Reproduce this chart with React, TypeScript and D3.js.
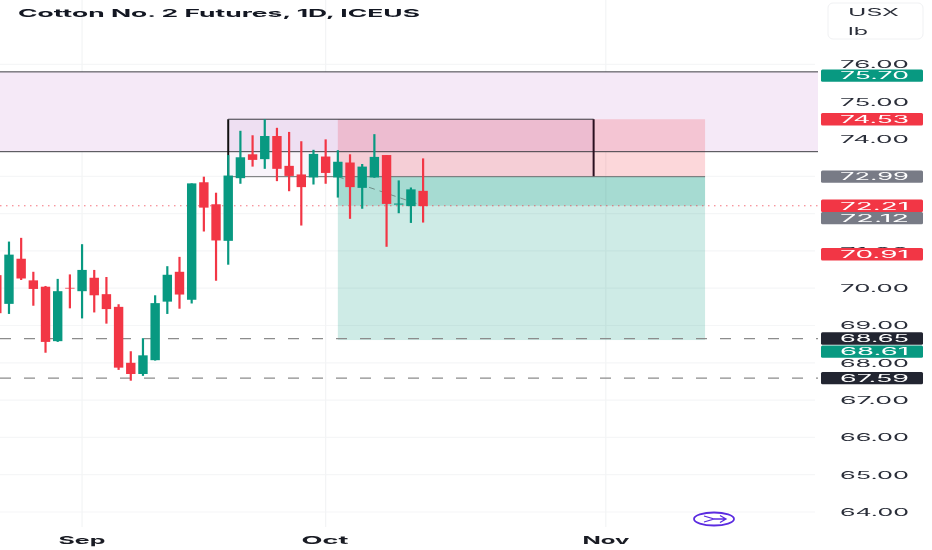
import React, { useEffect, useRef } from "react";
import * as d3 from "d3";

// candles, one trading day each: [open, high, low, close]
const candles: [number, number, number, number][] = [
	[70.35, 70.35, 69.33, 69.33],
	[69.58, 71.25, 69.31, 70.9],
	[70.79, 71.35, 70.22, 70.26],
	[70.21, 70.44, 69.53, 69.98],
	[70.04, 70.06, 68.27, 68.56],
	[68.58, 70.25, 68.56, 69.92],
	[70.01, 70.37, 69.46, 69.99],
	[69.92, 71.18, 69.19, 70.49],
	[70.28, 70.49, 69.35, 69.81],
	[69.84, 70.3, 69.05, 69.44],
	[69.5, 69.57, 67.81, 67.87],
	[68.0, 68.31, 67.52, 67.7],
	[67.7, 68.66, 67.65, 68.2],
	[68.07, 69.81, 68.06, 69.6],
	[69.64, 70.59, 69.31, 70.36],
	[70.44, 70.84, 69.45, 69.83],
	[69.69, 72.81, 69.59, 72.81],
	[72.84, 72.99, 71.52, 72.16],
	[72.25, 72.56, 70.2, 71.28],
	[71.27, 73.57, 70.63, 73.02],
	[72.95, 74.22, 72.8, 73.51],
	[73.59, 74.1, 73.26, 73.44],
	[73.46, 74.53, 73.2, 74.08],
	[74.08, 74.3, 72.87, 73.2],
	[73.28, 74.19, 72.6, 73.01],
	[73.05, 73.94, 71.68, 72.71],
	[72.97, 73.71, 72.78, 73.6],
	[73.53, 73.99, 72.8, 73.09],
	[72.97, 73.7, 72.43, 73.39],
	[73.37, 73.59, 71.86, 72.71],
	[72.69, 73.33, 72.13, 73.26],
	[72.97, 74.13, 72.96, 73.52],
	[73.57, 73.57, 71.11, 72.26],
	[72.24, 72.89, 72.01, 72.27],
	[72.2, 72.7, 71.75, 72.65],
	[72.61, 73.48, 71.76, 72.2],
];

const priceTicks = [76, 75, 74, 73, 72, 71, 70, 69, 68, 67, 66, 65, 64];
// 73 and 72 sit fully under the price tags in the original, so no text for them
const priceTickLabels = [76, 75, 74, 71, 70, 69, 68, 67, 66, 65, 64];
const monthLabels = ["Sep", "Oct", "Nov"];
const monthIndex = [7, 27, 50];

// purple zone and the black box inside it
const zoneTop = 75.8;
const zoneBottom = 73.66;
const boxStart = 19;
const boxEnd = 49;
const boxTop = 74.53;
const boxBottom = 72.99;

// long position tool
const tradeStart = 28;
const tradeEnd = 58.15;
const stopPrice = 74.53;
const entryPrice = 72.99;
const targetPrice = 68.61;
const lastPrice = 72.21;
const lastIndex = 35;

const levelLines = [68.65, 67.59];

const green = "#089981";
const red = "#f23645";
const navy = "#222531";
const gray = "#787b86";

// y is where the label really sits, some are pushed apart like on the platform
const labelText = ["75.70", "74.53", "72.99", "72.21", "72.12", "70.91", "68.65", "68.61", "67.59"];
const labelPrice = [75.7, 74.53, 72.99, 72.21, 71.88, 70.91, 68.65, 68.3, 67.59];
const labelColor = [green, red, gray, red, gray, red, navy, green, navy];

export default function App() {
	const svgRef = useRef<SVGSVGElement | null>(null);

	useEffect(() => {
		if (!svgRef.current) return;

		const width = 932;
		const height = 550;
		const plotRight = 818;

		const x = d3.scaleLinear().domain([0, lastIndex]).range([-3.2, 423.1]);
		const y = d3.scaleLinear().domain([64, 76]).range([512, 64.4]);

		const svg = d3.select(svgRef.current);
		svg.selectAll("*").remove();
		svg.attr("viewBox", `0 0 ${width} ${height}`);

		svg.append("rect").attr("width", width).attr("height", height).attr("fill", "#fff");

		// grid
		svg
			.append("g")
			.selectAll("line")
			.data(priceTicks)
			.enter()
			.append("line")
			.attr("x1", 0)
			.attr("x2", 815)
			.attr("y1", (d) => y(d))
			.attr("y2", (d) => y(d))
			.attr("stroke", "#f5f6f7")
			.attr("stroke-width", 1.2);
		svg
			.append("g")
			.selectAll("line")
			.data(monthIndex)
			.enter()
			.append("line")
			.attr("x1", (d) => x(d))
			.attr("x2", (d) => x(d))
			.attr("y1", 0)
			.attr("y2", 527)
			.attr("stroke", "#f3f4f5")
			.attr("stroke-width", 1.2);

		// purple zone
		svg
			.append("rect")
			.attr("x", 0)
			.attr("width", plotRight)
			.attr("y", y(zoneTop))
			.attr("height", y(zoneBottom) - y(zoneTop))
			.attr("fill", "#f5e9f7");

		// long position
		const tradeX = x(tradeStart);
		const tradeW = x(tradeEnd) - x(tradeStart);
		svg
			.append("rect")
			.attr("x", tradeX)
			.attr("width", tradeW)
			.attr("y", y(stopPrice))
			.attr("height", y(entryPrice) - y(stopPrice))
			.attr("fill", red)
			.attr("fill-opacity", 0.2);
		svg
			.append("rect")
			.attr("x", tradeX)
			.attr("width", tradeW)
			.attr("y", y(entryPrice))
			.attr("height", y(targetPrice) - y(entryPrice))
			.attr("fill", green)
			.attr("fill-opacity", 0.2);
		svg
			.append("rect")
			.attr("x", tradeX)
			.attr("width", tradeW)
			.attr("y", y(entryPrice))
			.attr("height", y(lastPrice) - y(entryPrice))
			.attr("fill", green)
			.attr("fill-opacity", 0.2);

		// box fill, borders come later
		svg
			.append("rect")
			.attr("x", x(boxStart))
			.attr("width", x(boxEnd) - x(boxStart))
			.attr("y", y(boxTop))
			.attr("height", y(boxBottom) - y(boxTop))
			.attr("fill", "#7a1fa2")
			.attr("fill-opacity", 0.05);

		// zone borders
		[zoneTop, zoneBottom].forEach((p) => {
			svg
				.append("line")
				.attr("x1", 0)
				.attr("x2", plotRight)
				.attr("y1", y(p))
				.attr("y2", y(p))
				.attr("stroke", "#3e3e44")
				.attr("stroke-width", 1);
		});

		// box borders
		svg
			.append("path")
			.attr("d", `M${x(boxStart)},${y(boxBottom)}V${y(boxTop)}`)
			.attr("stroke", "#111")
			.attr("stroke-width", 2);
		svg
			.append("path")
			.attr("d", `M${x(boxStart)},${y(boxTop)}H${x(boxEnd)}`)
			.attr("stroke", "#3a3a40")
			.attr("stroke-width", 1);
		svg
			.append("path")
			.attr("d", `M${x(boxEnd)},${y(boxTop)}V${y(boxBottom)}`)
			.attr("stroke", "#2a1020")
			.attr("stroke-width", 2);
		svg
			.append("path")
			.attr("d", `M${x(boxStart)},${y(boxBottom)}H${x(tradeEnd)}`)
			.attr("stroke", "#6b6f70")
			.attr("stroke-width", 1);

		// level lines + last price
		levelLines.forEach((p) => {
			svg
				.append("line")
				.attr("x1", 0)
				.attr("x2", plotRight)
				.attr("y1", y(p))
				.attr("y2", y(p))
				.attr("stroke", "#8c8c8c")
				.attr("stroke-width", 1.2)
				.attr("stroke-dasharray", "11 13");
		});
		svg
			.append("line")
			.attr("x1", 0)
			.attr("x2", plotRight)
			.attr("y1", y(lastPrice))
			.attr("y2", y(lastPrice))
			.attr("stroke", red)
			.attr("stroke-opacity", 0.7)
			.attr("stroke-dasharray", "1.5 4.5");
		svg
			.append("line")
			.attr("x1", tradeX)
			.attr("x2", x(lastIndex))
			.attr("y1", y(entryPrice))
			.attr("y2", y(lastPrice))
			.attr("stroke", "#6f8f88")
			.attr("stroke-dasharray", "6 5");

		// candles
		const bars = svg
			.append("g")
			.selectAll("g")
			.data(candles)
			.enter()
			.append("g")
			.attr("fill", (d) => (d[3] >= d[0] ? green : red))
			.attr("stroke", (d) => (d[3] >= d[0] ? green : red));
		bars
			.append("line")
			.attr("x1", (_, i) => x(i))
			.attr("x2", (_, i) => x(i))
			.attr("y1", (d) => y(d[1]))
			.attr("y2", (d) => y(d[2]))
			.attr("stroke-width", 2.2);
		bars
			.append("rect")
			.attr("x", (_, i) => x(i) - 4.7)
			.attr("width", 9.4)
			.attr("y", (d) => y(Math.max(d[0], d[3])))
			.attr("height", (d) => Math.max(0.6, Math.abs(y(d[0]) - y(d[3]))))
			.attr("stroke", "none");

		// price axis
		const axis = svg
			.append("g")
			.attr("transform", `translate(840,0)`)
			.call(d3.axisRight(y).tickValues(priceTickLabels).tickFormat(d3.format(".2f")).tickSize(0).tickPadding(0));
		axis.select(".domain").remove();
		axis
			.selectAll("text")
			.attr("font-family", "Inter, 'Noto Sans', sans-serif")
			.attr("font-size", 10.5)
			.attr("fill", "#2a2e39")
			.attr("textLength", 69)
			.attr("lengthAdjust", "spacingAndGlyphs");

		// price labels
		const tags = svg
			.append("g")
			.selectAll("g")
			.data(labelText)
			.enter()
			.append("g")
			.attr("transform", (_, i) => `translate(821,${y(labelPrice[i])})`);
		tags
			.append("rect")
			.attr("y", -6.2)
			.attr("width", 102)
			.attr("height", 12.4)
			.attr("rx", 1.5)
			.attr("fill", (_, i) => labelColor[i]);
		tags
			.append("text")
			.attr("x", 19)
			.attr("dy", "0.36em")
			.attr("font-family", "Inter, 'Noto Sans', sans-serif")
			.attr("font-size", 10.5)
			.attr("fill", "#fff")
			.attr("textLength", 69)
			.attr("lengthAdjust", "spacingAndGlyphs")
			.text((d) => d);

		// months
		svg
			.append("g")
			.selectAll("text")
			.data(monthLabels)
			.enter()
			.append("text")
			.attr("x", (_, i) => [82, 325, 606][i])
			.attr("y", 543.5)
			.attr("text-anchor", "middle")
			.attr("font-family", "Inter, 'Noto Sans', sans-serif")
			.attr("font-weight", 700)
			.attr("font-size", 11)
			.attr("fill", "#1a1c24")
			.attr("textLength", 47)
			.attr("lengthAdjust", "spacingAndGlyphs")
			.text((d) => d);

		// title
		svg
			.append("text")
			.attr("x", 18)
			.attr("y", 16.5)
			.attr("font-family", "Inter, 'Noto Sans', sans-serif")
			.attr("font-weight", 700)
			.attr("font-size", 11)
			.attr("fill", "#131722")
			.attr("textLength", 402)
			.attr("lengthAdjust", "spacingAndGlyphs")
			.text("Cotton No. 2 Futures, 1D, ICEUS");

		// currency / unit box
		svg
			.append("rect")
			.attr("x", 828)
			.attr("y", 3)
			.attr("width", 95)
			.attr("height", 36)
			.attr("rx", 5)
			.attr("fill", "#fff")
			.attr("stroke", "#f0f1f3");
		const unitFont = { "font-family": "Inter, 'Noto Sans', sans-serif", "font-size": 10.5, fill: "#2a2e39" };
		const usx = svg.append("text").attr("x", 848).attr("y", 16).attr("textLength", 51).attr("lengthAdjust", "spacingAndGlyphs").text("USX");
		const lb = svg.append("text").attr("x", 848).attr("y", 35).attr("textLength", 20).attr("lengthAdjust", "spacingAndGlyphs").text("lb");
		[usx, lb].forEach((t) => Object.entries(unitFont).forEach(([k, v]) => t.attr(k, v)));

		// logo-ish icon, bottom
		const icon = svg.append("g").attr("transform", "translate(714,519)").attr("fill", "none").attr("stroke", "#5b2be0");
		icon.append("ellipse").attr("rx", 20).attr("ry", 6.5).attr("stroke-width", 1.8);
		icon.append("path").attr("d", "M-10,-3L0,0L-10,3M0,0H11M6,-3.5L12,0L6,3.5").attr("stroke-width", 1.3);
	}, []);

	return (
		<svg
			ref={svgRef}
			width={932}
			height={550}
			style={{ position: "absolute", left: 0, top: 0, filter: "blur(0.55px)" }}
		/>
	);
}
